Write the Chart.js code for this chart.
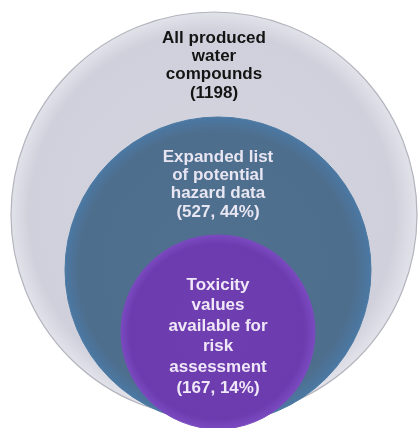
<!DOCTYPE html>
<html>
<head>
<meta charset="utf-8">
<script src="https://cdn.jsdelivr.net/npm/chart.js@4.4.0/dist/chart.umd.min.js"></script>
<style>
  html, body { margin: 0; padding: 0; background: #fff; }
  #wrap { width: 420px; height: 428px; }
</style>
</head>
<body>
<div id="wrap"><canvas id="circulos" width="420" height="428"></canvas></div>
<script>
// dados
const labels = ['All produced water compounds', 'Expanded list of potential hazard data', 'Toxicity values available for risk assessment'];
const counts = [1198, 527, 167];
const shares = [null, 44, 14];

// quebras de linha do texto de cada circulo
const lineBreaks = [
    ['All produced', 'water', 'compounds'],
    ['Expanded list', 'of potential', 'hazard data'],
    ['Toxicity', 'values', 'available for', 'risk', 'assessment']
];

// geometria (em unidades da escala)
const centersX = [214, 218, 218];
const centersY = [215, 270, 332];
const radii = [203, 153, 97];
const textTop = [38, 157, 285];
const lineGap = [18.4, 18.4, 20.6];

const fills = [
    ['#d5d5e0', '#d0d0dc', '#e2e2ea'],
    ['#50708f', '#4e6e8d', '#4b78a3'],
    ['#6f3eb0', '#6c3cae', '#7a49c0']
];
const textColors = ['#141414', '#e8e6f2', '#f0e8f8'];

function raioPx(chart, i) {
    const s = chart.scales.x;
    if (!s) return NaN;
    return s.getPixelForValue(radii[i]) - s.getPixelForValue(0);
}

function raio(ctx) {
    const r = raioPx(ctx.chart, ctx.dataIndex);
    return isFinite(r) && r > 0 ? r : radii[ctx.dataIndex];
}

function preenchimento(ctx) {
    const chart = ctx.chart;
    const i = ctx.dataIndex;
    if (!chart.scales.x || !chart.scales.y) return fills[i][1];
    const x = chart.scales.x.getPixelForValue(centersX[i]);
    const y = chart.scales.y.getPixelForValue(centersY[i]);
    const r = raioPx(chart, i);
    if (![x, y, r].every(isFinite) || r <= 0) return fills[i][1];
    const g = chart.ctx.createRadialGradient(x - r * 0.1, y - r * 0.05, 0, x, y, r);
    g.addColorStop(0, fills[i][0]);
    g.addColorStop(0.9, fills[i][1]);
    g.addColorStop(1, fills[i][2]);
    return g;
}

const textos = {
    id: 'textos',
    afterDatasetsDraw(chart) {
        const c = chart.ctx;
        c.save();
        c.font = 'bold 17px "Liberation Sans", Arial, sans-serif';
        c.textAlign = 'center';
        c.textBaseline = 'middle';
        labels.forEach((lab, i) => {
            const linhas = lineBreaks[i].slice();
            linhas.push('(' + counts[i] + (shares[i] != null ? ', ' + shares[i] + '%' : '') + ')');
            const x = chart.scales.x.getPixelForValue(centersX[i]);
            c.fillStyle = textColors[i];
            linhas.forEach((t, k) => {
                const y = chart.scales.y.getPixelForValue(textTop[i] + k * lineGap[i]);
                c.fillText(t, x, y);
            });
        });
        c.restore();
    }
};

function graficoCirculos() {
    const ctx = document.getElementById('circulos');

    new Chart(ctx, {
        type: 'bubble',
        data: {
            labels: labels,
            datasets: [{
                label: 'Compounds',
                data: counts.map((v, i) => ({ x: centersX[i], y: centersY[i], v: v })),
                backgroundColor: preenchimento,
                borderColor: ['#b4b4be', '#4a7aa3', '#7a4bbd'],
                borderWidth: [1.2, 1, 1],
                radius: raio,
                hoverRadius: 0,
                clip: false
            }]
        },
        options: {
            responsive: false,
            animation: false,
            layout: { padding: 0, autoPadding: false },
            scales: {
                x: { type: 'linear', min: 0, max: 420, display: false },
                y: { type: 'linear', min: 0, max: 428, reverse: true, display: false }
            },
            plugins: {
                legend: { display: false },
                tooltip: { enabled: false }
            }
        },
        plugins: [textos]
    });
}

graficoCirculos();
</script>
</body>
</html>
